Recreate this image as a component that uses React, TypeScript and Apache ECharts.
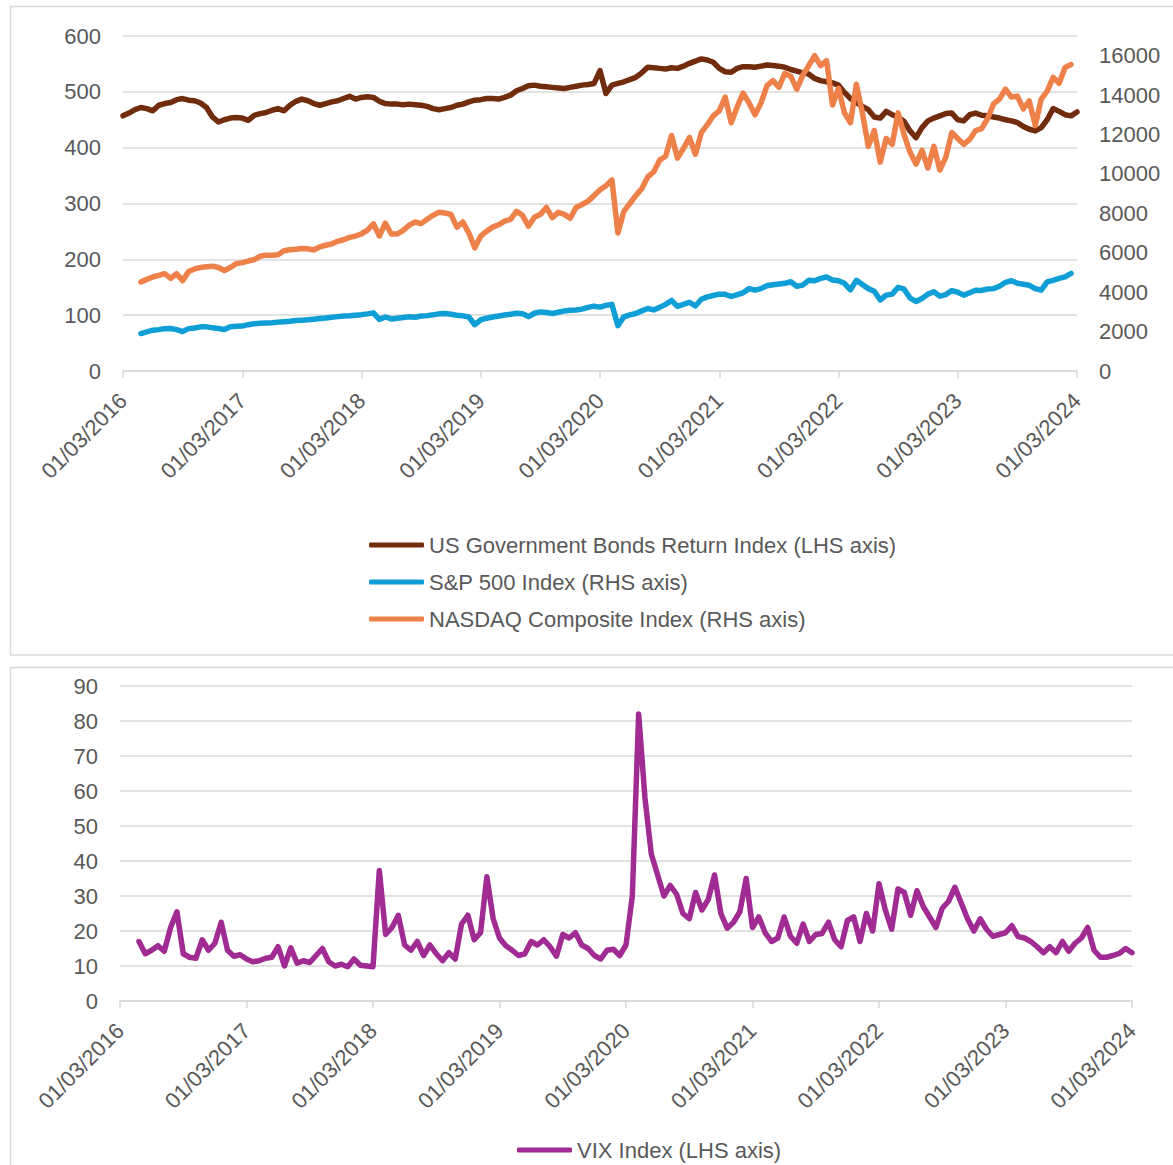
import React, { useEffect, useRef } from "react";
import * as echarts from "echarts";

// Sampling step in years (x axis runs from 0 = 01/03/2016 to 8 = 01/03/2024)
const STEP = 0.05;

const YEAR_LABELS = [
  "01/03/2016", "01/03/2017", "01/03/2018", "01/03/2019", "01/03/2020",
  "01/03/2021", "01/03/2022", "01/03/2023", "01/03/2024",
];

const SERIES_NAMES = [
  "US Government Bonds Return Index (LHS axis)",
  "S&P 500 Index (RHS axis)",
  "NASDAQ Composite Index (RHS axis)",
];
const VIX_NAME = "VIX Index (LHS axis)";

// US Government Bonds Return Index, from year 0.00 to 8.00
const BONDS_START = 0;
const bonds = [
  457, 462, 468, 472, 470, 466, 476, 479, 481, 486, 488, 485, 484, 480, 472, 455, 446, 450, 453, 454,
  453, 449, 458, 461, 463, 467, 470, 466, 476, 483, 487, 484, 479, 476, 479, 482, 484, 488, 492, 487,
  490, 491, 490, 483, 479, 478, 478, 477, 478, 477, 476, 474, 470, 468, 470, 472, 476, 478, 482, 485,
  486, 488, 488, 487, 490, 494, 502, 506, 511, 512, 510, 509, 508, 507, 506, 508, 510, 512, 513, 515,
  538, 497, 512, 515, 518, 522, 526, 534, 544, 543, 542, 541, 543, 542, 546, 551, 555, 559, 557, 553,
  542, 536, 535, 542, 545, 545, 544, 546, 548, 547, 546, 544, 540, 537, 534, 532, 524, 520, 518, 516,
  512, 499, 488, 481, 474, 468, 455, 453, 465, 459, 455, 447, 430, 418, 436, 448, 453, 457, 461, 462,
  450, 448, 459, 462, 458, 457, 455, 453, 450, 448, 445, 438, 433, 430, 436, 450, 470, 465, 459, 457,
  464,
];

// S&P 500 Index, from year 0.15 to 7.95
const SP_START = 0.15;
const sp500 = [
  1900, 1990, 2070, 2100, 2150, 2160, 2100, 2000, 2150, 2180, 2240, 2240, 2190, 2160, 2100, 2240, 2270,
  2280, 2350, 2400, 2420, 2440, 2450, 2480, 2500, 2520, 2560, 2580, 2600, 2630, 2660, 2690, 2730, 2760, 2790, 2800, 2830,
  2860, 2900, 2950, 2620, 2740, 2640, 2680, 2720, 2750, 2730, 2790, 2810, 2850, 2900, 2920, 2880, 2830, 2800, 2740, 2350,
  2600, 2680, 2740, 2790, 2840, 2880, 2930, 2900, 2760, 2930, 3000, 2970, 2920, 2980, 3050, 3080, 3100, 3140, 3230, 3290,
  3240, 3330, 3380, 2300, 2750, 2850, 2920, 3050, 3170, 3100, 3230, 3380, 3580, 3280, 3380, 3490, 3300, 3640, 3760, 3830,
  3900, 3890, 3780, 3880, 3970, 4180, 4100, 4180, 4330, 4380, 4420, 4450, 4530, 4300, 4360, 4600, 4580, 4700, 4770, 4620,
  4580, 4450, 4120, 4600, 4390, 4180, 4050, 3600, 3850, 3900, 4250, 4150, 3700, 3530, 3680, 3900, 4020, 3800, 3880, 4080,
  4000, 3850, 3970, 4100, 4090, 4160, 4180, 4300, 4500, 4580, 4450, 4400, 4350, 4180, 4100, 4520, 4600, 4700, 4780, 4950,
];

// NASDAQ Composite Index, from year 0.15 to 7.95
const NASDAQ_START = 0.15;
const nasdaq = [
  4520, 4650, 4770, 4850, 4940, 4700, 4940, 4580, 5050, 5180, 5250, 5290, 5320, 5250, 5100, 5250, 5450,
  5500, 5580, 5650, 5820, 5880, 5870, 5900, 6100, 6150, 6180, 6220, 6200, 6140, 6300, 6380, 6450, 6580, 6660, 6780, 6850,
  6960, 7150, 7470, 6850, 7500, 6950, 6950, 7140, 7400, 7560, 7480, 7700, 7900, 8060, 8020, 7950, 7300, 7560, 7000, 6250,
  6850, 7100, 7300, 7420, 7600, 7700, 8100, 7900, 7350, 7800, 7950, 8300, 7780, 8050, 7950, 7750, 8300, 8450, 8620, 8900,
  9200, 9400, 9700, 7000, 8100, 8500, 8900, 9250, 9850, 10100, 10700, 10900, 11950, 10800, 11300, 11850, 11000, 12100, 12500, 12950,
  13200, 13900, 12600, 13400, 14100, 13600, 13000, 13600, 14480, 14730, 14400, 15100, 14950, 14300, 15000, 15500, 16000, 15500, 15750, 13500,
  14350, 13100, 12600, 14550, 13100, 11400, 12200, 10600, 11800, 11500, 13100, 12000, 11100, 10500, 11200, 10300, 11400, 10200, 10850, 12100,
  11800, 11500, 11750, 12200, 12300, 12800, 13550, 13800, 14300, 13900, 13950, 13300, 13700, 12450, 13800, 14200, 14900, 14600, 15400, 15550,
];

// VIX Index, from year 0.15 to 8.00
const VIX_START = 0.15;
const vix = [
  17.0, 13.5, 14.5, 15.8, 14.2, 21.0, 25.5, 13.5, 12.5, 12.2, 17.5, 14.5, 16.5, 22.5, 14.5, 12.8, 13.2,
  12.0, 11.2, 11.5, 12.2, 12.5, 15.5, 10.0, 15.2, 10.8, 11.5, 11.0, 13.0, 15.0, 11.2, 10.0, 10.5, 9.8, 12.0, 10.2, 10.0,
  9.8, 37.3, 19.0, 21.0, 24.5, 16.0, 14.5, 17.0, 13.0, 16.0, 13.5, 11.5, 13.8, 12.0, 22.0, 24.5, 17.5, 19.5, 35.5, 23.5,
  18.0, 15.8, 14.5, 13.0, 13.5, 17.0, 16.0, 17.5, 15.5, 12.8, 19.0, 18.0, 19.5, 16.0, 15.0, 13.0, 12.0, 14.5, 14.8, 13.0,
  16.0, 30.0, 82.0, 58.0, 42.0, 36.0, 30.0, 33.0, 30.5, 25.0, 23.5, 31.0, 26.0, 29.0, 36.0, 25.0, 20.8, 22.5, 25.5, 35.0,
  21.0, 24.0, 19.5, 17.0, 18.0, 24.0, 18.5, 16.5, 22.0, 17.0, 19.0, 19.3, 22.5, 17.5, 15.5, 23.0, 24.0, 17.0, 25.0, 20.0,
  33.5, 26.0, 20.5, 32.0, 31.0, 24.5, 31.5, 27.0, 24.0, 21.0, 26.5, 28.5, 32.5, 28.0, 23.5, 20.0, 23.5, 20.5, 18.5, 19.0,
  19.5, 21.5, 18.4, 18.0, 17.0, 15.5, 13.8, 15.5, 13.8, 17.0, 14.2, 16.5, 18.0, 21.0, 14.5, 12.5, 12.5, 13.0, 13.6, 15.0,
  13.8,
];

const COLORS = {
  bonds: "#712B0D",
  sp: "#0F9ED5",
  nasdaq: "#EE8049",
  vix: "#A02B93",
  text: "#595959",
  grid: "#D9D9D9",
};

const FONT = "'Liberation Sans', Arial, sans-serif";

function toPoints(start: number, values: number[]) {
  return values.map((v, i) => [Math.round((start + i * STEP) * 100) / 100, v]);
}

export default function App() {
  const ref = useRef<HTMLDivElement>(null);

  useEffect(() => {
    if (!ref.current) return;
    const chart = echarts.init(ref.current, undefined, { renderer: "svg" });

    const labelStyle = { color: COLORS.text, fontSize: 22, fontFamily: FONT };
    const gridLine = { show: true, lineStyle: { color: COLORS.grid, width: 1.5 } };

    const xAxisBase = (gridIndex: number) => ({
      gridIndex,
      type: "value",
      min: 0,
      max: 8,
      interval: 1,
      axisLine: { show: true, onZero: false, lineStyle: { color: COLORS.grid, width: 1.5 } },
      axisTick: { show: true, length: 7, lineStyle: { color: COLORS.grid, width: 1.5 } },
      splitLine: { show: false },
      axisLabel: {
        ...labelStyle,
        rotate: 45,
        margin: 26,
        formatter: (v: number) => YEAR_LABELS[Math.round(v)] ?? "",
      },
    });

    const lineSeries = (name: string, color: string, data: number[][], xAxisIndex: number, yAxisIndex: number) => ({
      name,
      type: "line",
      xAxisIndex,
      yAxisIndex,
      data,
      showSymbol: false,
      symbol: "none",
      color,
      lineStyle: { color, width: 5.5, cap: "round", join: "round" },
    });

    const legendText = { color: COLORS.text, fontSize: 22, lineHeight: 22, fontFamily: FONT };

    chart.setOption({
      animation: false,
      textStyle: { fontFamily: FONT },
      grid: [
        { left: 123, top: 36, width: 954, height: 335 },
        { left: 120, top: 686, width: 1012, height: 315 },
      ],
      xAxis: [xAxisBase(0), xAxisBase(1)],
      yAxis: [
        {
          gridIndex: 0,
          type: "value",
          position: "left",
          min: 0,
          max: 600,
          interval: 100,
          axisLine: { show: false },
          axisTick: { show: false },
          splitLine: gridLine,
          axisLabel: { ...labelStyle, margin: 22 },
        },
        {
          gridIndex: 0,
          type: "value",
          position: "right",
          min: 0,
          max: 17000,
          interval: 2000,
          axisLine: { show: false },
          axisTick: { show: false },
          splitLine: { show: false },
          axisLabel: {
            ...labelStyle,
            margin: 22,
            formatter: (v: number) => (v > 16000 ? "" : String(v)),
          },
        },
        {
          gridIndex: 1,
          type: "value",
          position: "left",
          min: 0,
          max: 90,
          interval: 10,
          axisLine: { show: false },
          axisTick: { show: false },
          splitLine: gridLine,
          axisLabel: { ...labelStyle, margin: 22 },
        },
      ],
      legend: [
        {
          orient: "vertical",
          left: 369,
          top: 534,
          padding: 0,
          itemWidth: 55,
          itemHeight: 5,
          itemGap: 15,
          icon: "roundRect",
          selectedMode: false,
          data: SERIES_NAMES,
          textStyle: legendText,
        },
        {
          orient: "horizontal",
          left: 517,
          top: 1139,
          padding: 0,
          itemWidth: 55,
          itemHeight: 5,
          icon: "roundRect",
          selectedMode: false,
          data: [VIX_NAME],
          textStyle: legendText,
        },
      ],
      graphic: [
        {
          type: "rect",
          silent: true,
          shape: { x: 10.5, y: 6.5, width: 1180, height: 648.5 },
          style: { fill: "none", stroke: COLORS.grid, lineWidth: 1.5 },
        },
        {
          type: "rect",
          silent: true,
          shape: { x: 10.5, y: 667.5, width: 1180, height: 560 },
          style: { fill: "none", stroke: COLORS.grid, lineWidth: 1.5 },
        },
      ],
      series: [
        lineSeries(SERIES_NAMES[0], COLORS.bonds, toPoints(BONDS_START, bonds), 0, 0),
        lineSeries(SERIES_NAMES[1], COLORS.sp, toPoints(SP_START, sp500), 0, 1),
        lineSeries(SERIES_NAMES[2], COLORS.nasdaq, toPoints(NASDAQ_START, nasdaq), 0, 1),
        lineSeries(VIX_NAME, COLORS.vix, toPoints(VIX_START, vix), 1, 2),
      ],
    });

    return () => chart.dispose();
  }, []);

  return (
    <div
      ref={ref}
      style={{ position: "absolute", left: 0, top: 0, width: 1173, height: 1165, background: "#fff" }}
    />
  );
}
